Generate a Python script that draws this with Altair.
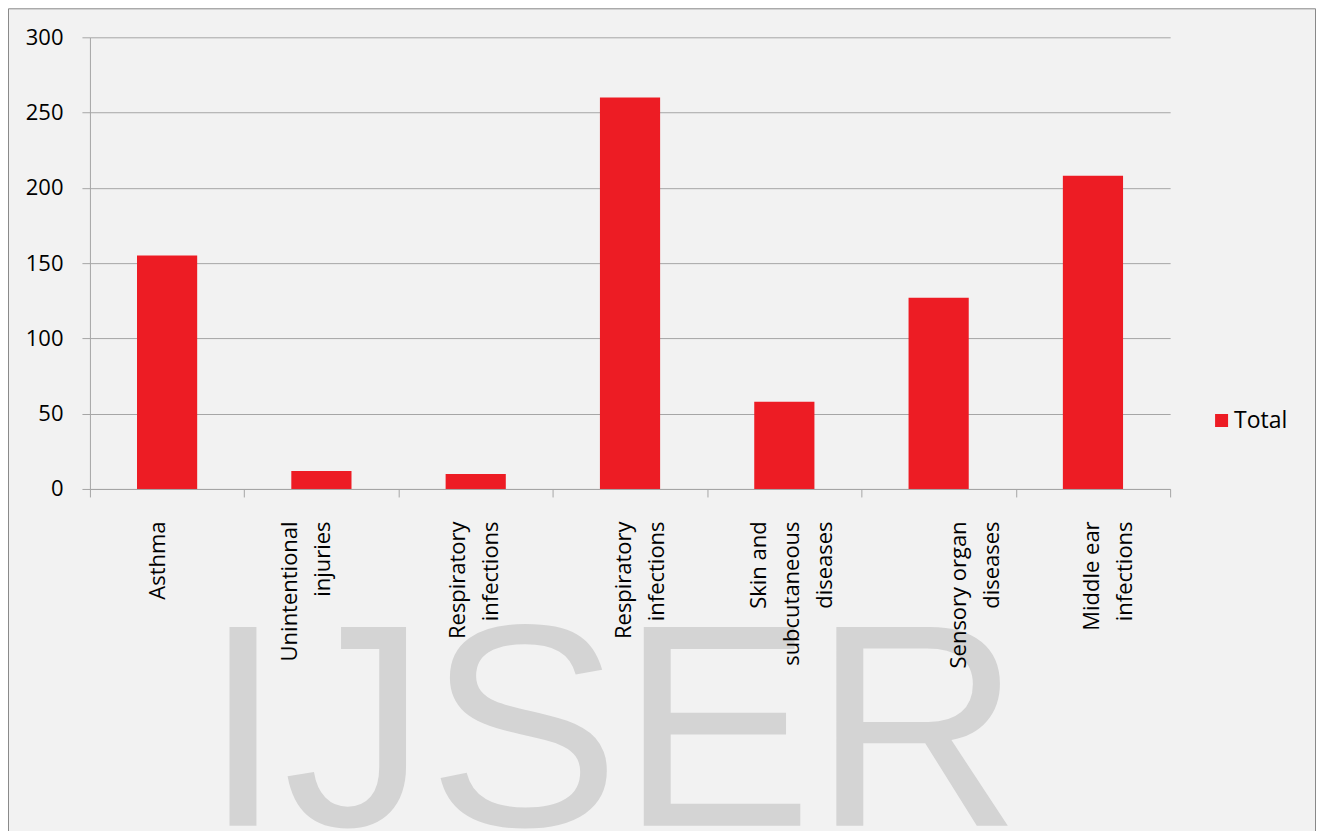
import json
import altair as alt
import pandas as pd

# ---- data ----
categories = [
    "Asthma",
    "Unintentional injuries",
    "Respiratory infections",
    "Respiratory infections",
    "Skin and subcutaneous diseases",
    "Sensory organ diseases",
    "Middle ear infections",
]
label_lines = [
    ["Asthma"],
    ["Unintentional", "injuries"],
    ["Respiratory", "infections"],
    ["Respiratory", "infections"],
    ["Skin and", "subcutaneous", "diseases"],
    ["Sensory organ", "diseases"],
    ["Middle ear", "infections"],
]
totals = [155, 12, 10, 260, 58, 127, 208]
series_name = "Total"
y_ticks = [0, 50, 100, 150, 200, 250, 300]
watermark = "IJSER"

df = pd.DataFrame({
    "idx": list(range(len(categories))),
    "category": categories,
    "value": totals,
    "series": [series_name] * len(categories),
})

# ---- styling ----
W, H = 1081, 452
PAD = {"left": 82, "top": 29, "right": 146, "bottom": 360}
GRID = "#a6a6a6"
FONT = "Open Sans"
label_shift = [-10, -31.5, -18.5, -6.5, -26, 19.5, -1.5]

label_expr = json.dumps(label_lines) + "[datum.value]"
offset_cond = {
    "condition": [{"test": f"datum.value == {i}", "value": s} for i, s in enumerate(label_shift)],
    "value": 0,
}

one = alt.Data(values=[{}])

frame = alt.Chart(one).mark_rect(
    fill="transparent", stroke="#898989", strokeWidth=1
).encode(
    x=alt.value(-PAD["left"] + 0.5),
    x2=alt.value(W + PAD["right"] - 0.5),
    y=alt.value(-PAD["top"] + 0.5),
    y2=alt.value(H + PAD["bottom"] + 50),
)

mark_wm = alt.Chart(one).mark_text(
    align="left", baseline="alphabetic", font="Liberation Sans",
    fontSize=289, color="#d4d4d4"
).encode(
    x=alt.value(113), y=alt.value(789), text=alt.value(watermark)
)

bars = alt.Chart(df).mark_bar(
    color="#ed1c24", width=alt.RelativeBandSize(0.39)
).encode(
    x=alt.X(
        "idx:O",
        sort=None,
        scale=alt.Scale(paddingInner=0, paddingOuter=0),
        axis=alt.Axis(
            title=None,
            labelExpr=label_expr,
            labelAngle=270,
            labelAlign="right",
            labelBaseline="middle",
            labelFont=FONT,
            labelFontSize=22,
            labelColor="#000000",
            labelLineHeight=33,
            labelPadding=24,
            labelOffset=offset_cond,
            tickBand="extent",
            tickSize=8,
            tickColor=GRID,
            domainColor=GRID,
            grid=False,
            zindex=1,
        ),
    ),
    y=alt.Y(
        "value:Q",
        scale=alt.Scale(domain=[0, 300], nice=False),
        axis=alt.Axis(
            title=None,
            values=y_ticks,
            labelFont=FONT,
            labelFontSize=22,
            labelColor="#000000",
            labelPadding=19,
            tickSize=8,
            tickColor=GRID,
            domainColor=GRID,
            gridColor=GRID,
            grid=True,
            zindex=0,
        ),
    ),
    color=alt.Color(
        "series:N",
        scale=alt.Scale(range=["#ed1c24"]),
        legend=alt.Legend(
            title=None,
            orient="none",
            legendX=1121,
            legendY=372,
            symbolType="square",
            symbolSize=169,
            symbolStrokeWidth=0,
            symbolOpacity=1,
            labelFont=FONT,
            labelFontSize=23,
            labelColor="#000000",
            labelOffset=1,
            padding=0,
        ),
    ),
)

chart = alt.layer(frame, mark_wm, bars).properties(
    width=W,
    height=H,
    padding=PAD,
    autosize=alt.AutoSizeParams(type="none"),
    background="#f2f2f2",
).configure_view(stroke="transparent")

chart.save("out.html", embed_options={"renderer": "svg", "actions": False})
